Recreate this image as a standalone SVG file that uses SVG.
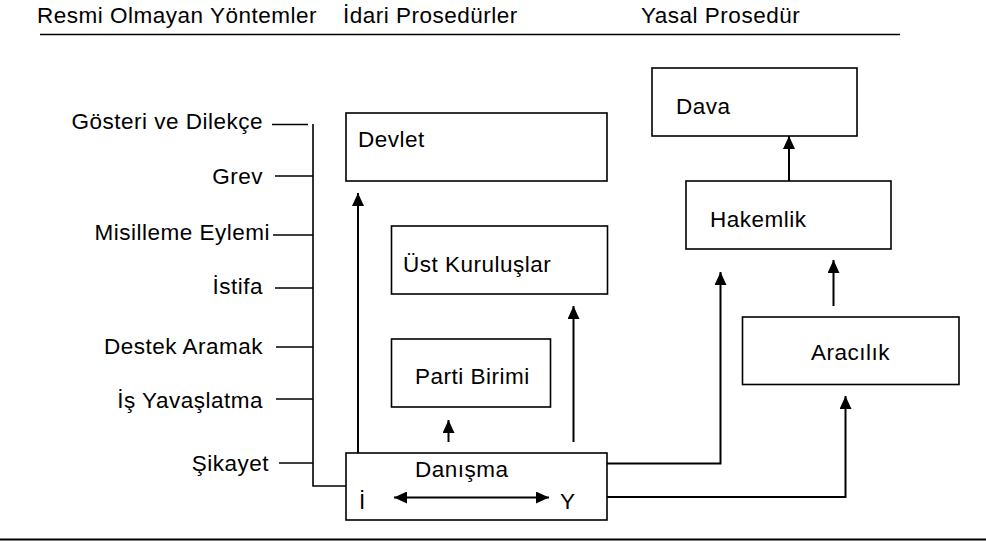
<svg xmlns="http://www.w3.org/2000/svg" width="986" height="541" viewBox="0 0 986 541">
<defs>
<style>
text{font-family:"Liberation Sans",Arial,sans-serif;font-size:22.5px;letter-spacing:0.5px;fill:#000}
.box{fill:#fff;stroke:#000;stroke-width:1.6}
.ln{fill:none;stroke:#000;stroke-width:1.6}
.arr{fill:none;stroke:#000;stroke-width:2;marker-end:url(#ah)}
.end{text-anchor:end}
</style>
<marker id="ah" markerUnits="userSpaceOnUse" markerWidth="14" markerHeight="12" refX="13" refY="6" orient="auto">
<path d="M0,0 L13,6 L0,12 z" fill="#000"/>
</marker>
<marker id="ahs" markerUnits="userSpaceOnUse" markerWidth="14" markerHeight="12" refX="13" refY="6" orient="auto-start-reverse">
<path d="M0,0 L13,6 L0,12 z" fill="#000"/>
</marker>
</defs>
<rect width="986" height="541" fill="#fff"/>

<g id="header">
<text x="37" y="23">Resmi Olmayan Yöntemler</text>
<text x="343" y="23">İdari Prosedürler</text>
<text x="641" y="23">Yasal Prosedür</text>
<line x1="40" y1="34.5" x2="900" y2="34.5" stroke="#000" stroke-width="1.6"/>
</g>

<g id="informal-methods">
<text class="end" x="263" y="128.5">Gösteri ve Dilekçe</text>
<text class="end" x="263" y="183.5">Grev</text>
<text class="end" x="270" y="240">Misilleme Eylemi</text>
<text class="end" x="263" y="293.5">İstifa</text>
<text class="end" x="263" y="353.5">Destek Aramak</text>
<text class="end" x="263" y="407.5">İş Yavaşlatma</text>
<text class="end" x="269" y="471">Şikayet</text>
</g>

<g id="connectors">
<line class="ln" x1="272" y1="124.5" x2="308" y2="124.5"/>
<line class="ln" x1="275" y1="176" x2="313" y2="176"/>
<line class="ln" x1="273" y1="235" x2="313" y2="235"/>
<line class="ln" x1="275" y1="288" x2="313" y2="288"/>
<line class="ln" x1="276" y1="347" x2="313" y2="347"/>
<line class="ln" x1="276" y1="399" x2="313" y2="399"/>
<line class="ln" x1="279" y1="463" x2="313" y2="463"/>
<polyline class="ln" points="313,124 313,486 346,486"/>

<line class="arr" x1="358" y1="453" x2="358" y2="193"/>
<line class="arr" x1="573.5" y1="442" x2="573.5" y2="306"/>
<line class="arr" x1="448.5" y1="442" x2="448.5" y2="420"/>
<polyline class="arr" points="607,463.5 720.5,463.5 720.5,272"/>
<polyline class="arr" points="607,497 845.5,497 845.5,396"/>
<line class="arr" x1="833.5" y1="306" x2="833.5" y2="260"/>
<line class="arr" x1="789" y1="181" x2="789" y2="136"/>
</g>

<g id="devlet">
<rect class="box" x="346" y="113" width="261" height="68"/>
<text x="358" y="147">Devlet</text>
</g>

<g id="ust-kuruluslar">
<rect class="box" x="391.5" y="226" width="216" height="68"/>
<text x="403" y="272">Üst Kuruluşlar</text>
</g>

<g id="parti-birimi">
<rect class="box" x="391.5" y="339" width="159" height="68"/>
<text x="415" y="383.5">Parti Birimi</text>
</g>

<g id="danisma">
<rect class="box" x="346" y="453" width="261" height="67"/>
<text x="415" y="477">Danışma</text>
<text x="359" y="508.5">İ</text>
<text x="560" y="508.5">Y</text>
<line x1="394" y1="497.5" x2="549" y2="497.5" stroke="#000" stroke-width="2" marker-start="url(#ahs)" marker-end="url(#ah)"/>
</g>

<g id="dava">
<rect class="box" x="652" y="68" width="205" height="68"/>
<text x="676" y="113.5">Dava</text>
</g>

<g id="hakemlik">
<rect class="box" x="686" y="181" width="205" height="68"/>
<text x="710" y="227">Hakemlik</text>
</g>

<g id="aracilik">
<rect class="box" x="742.5" y="317" width="216.5" height="67.5"/>
<text x="811" y="359.5">Aracılık</text>
</g>

<g id="footer">
<line x1="0" y1="539.5" x2="986" y2="539.5" stroke="#000" stroke-width="2"/>
</g>
</svg>
